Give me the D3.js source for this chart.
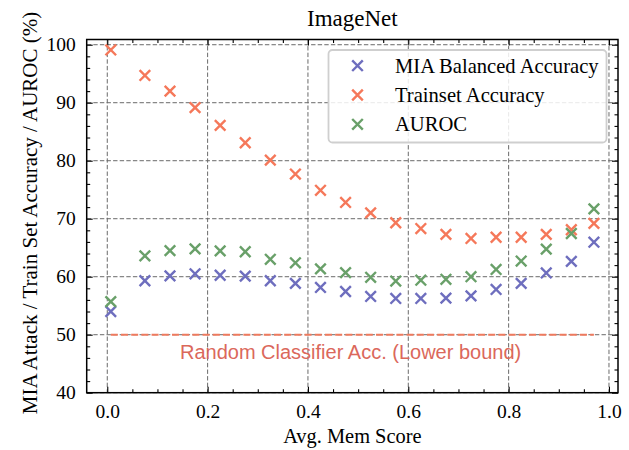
<!DOCTYPE html>
<html>
<head>
<meta charset="utf-8">
<script src="https://cdn.jsdelivr.net/npm/d3@7/dist/d3.min.js"></script>
<style>
  html, body { margin: 0; padding: 0; background: #fff; }
  svg { display: block; }
  .tick text { font-family: "Liberation Serif", "DejaVu Serif", serif; font-size: 19.5px; fill: #000; }
</style>
</head>
<body>
<div id="chart"></div>
<script>
// Average memorization score of each bin
const memScore = [0.007, 0.075, 0.125, 0.175, 0.225, 0.275, 0.325, 0.375, 0.425, 0.475,
                  0.525, 0.575, 0.625, 0.675, 0.725, 0.775, 0.825, 0.875, 0.925, 0.97];
// MIA balanced accuracy (%)
const miaBalancedAcc = [54.0, 59.3, 60.15, 60.5, 60.25, 60.1, 59.3, 58.85, 58.15, 57.45,
                        56.6, 56.25, 56.25, 56.3, 56.7, 57.8, 58.85, 60.65, 62.65, 65.95];
// Train set accuracy (%)
const trainsetAcc = [99.1, 94.7, 92.0, 89.15, 86.1, 83.1, 80.1, 77.7, 74.9, 72.8,
                     71.0, 69.3, 68.3, 67.3, 66.6, 66.8, 66.8, 67.3, 68.1, 69.2];
// Attack AUROC (%)
const auroc = [55.7, 63.6, 64.5, 64.8, 64.45, 64.3, 63.0, 62.4, 61.35, 60.7,
               59.9, 59.25, 59.4, 59.55, 60.0, 61.25, 62.7, 64.75, 67.45, 71.7];
// Random classifier baseline (%)
const randomBaseline = 50;

const xTicks = [0.0, 0.2, 0.4, 0.6, 0.8, 1.0];
const yTicks = [40, 50, 60, 70, 80, 90, 100];

const seriesNames = ["MIA Balanced Accuracy", "Trainset Accuracy", "AUROC"];
const seriesValues = [miaBalancedAcc, trainsetAcc, auroc];
const seriesColors = ["#6e6ebe", "#f5785a", "#69a069"];

const W = 629, H = 450;
const plotL = 86.7, plotR = 618, plotT = 39.5, plotB = 392.7;
const serif = '"Liberation Serif", "DejaVu Serif", serif';

const svg = d3.select("#chart").append("svg")
  .attr("width", W).attr("height", H);

const x = d3.scaleLinear().domain([-0.041, 1.018]).range([plotL, plotR]);
const y = d3.scaleLinear().domain([40, 100.9]).range([plotB, plotT]);

// grid
const grid = svg.append("g").attr("stroke", "#6a6a6a").attr("stroke-width", 1)
  .attr("stroke-dasharray", "4.4,2.2").attr("fill", "none");
grid.selectAll("line.gx").data(xTicks).join("line").attr("class", "gx")
  .attr("x1", d => x(d)).attr("x2", d => x(d)).attr("y1", plotT).attr("y2", plotB);
grid.selectAll("line.gy").data(yTicks).join("line").attr("class", "gy")
  .attr("x1", plotL).attr("x2", plotR).attr("y1", d => y(d)).attr("y2", d => y(d));

// minor tick values
const xMinor = d3.range(-0.05, 1.051, 0.05).map(v => +v.toFixed(2))
  .filter(v => v >= -0.041 && v <= 1.018 && !xTicks.some(t => Math.abs(t - v) < 1e-6));
const yMinor = d3.range(40, 101, 2).filter(v => v % 10 !== 0);

function styleAxis(g) {
  g.select(".domain").remove();
  g.selectAll(".tick line").attr("stroke", "#000").attr("stroke-width", 1.1);
}

// major axes with inward ticks
svg.append("g").attr("transform", `translate(0,${plotB})`)
  .call(d3.axisBottom(x).tickValues(xTicks).tickFormat(d3.format(".1f")).tickSize(-6).tickPadding(11))
  .call(styleAxis);
svg.append("g").attr("transform", `translate(0,${plotT})`)
  .call(d3.axisTop(x).tickValues(xTicks).tickFormat("").tickSize(-6))
  .call(styleAxis);
svg.append("g").attr("transform", `translate(${plotL},0)`)
  .call(d3.axisLeft(y).tickValues(yTicks).tickSize(-6).tickPadding(11))
  .call(styleAxis);
svg.append("g").attr("transform", `translate(${plotR},0)`)
  .call(d3.axisRight(y).tickValues(yTicks).tickFormat("").tickSize(-6))
  .call(styleAxis);

// minor ticks
svg.append("g").attr("transform", `translate(0,${plotB})`)
  .call(d3.axisBottom(x).tickValues(xMinor).tickFormat("").tickSize(-3.5)).call(styleAxis);
svg.append("g").attr("transform", `translate(0,${plotT})`)
  .call(d3.axisTop(x).tickValues(xMinor).tickFormat("").tickSize(-3.5)).call(styleAxis);
svg.append("g").attr("transform", `translate(${plotL},0)`)
  .call(d3.axisLeft(y).tickValues(yMinor).tickFormat("").tickSize(-3.5)).call(styleAxis);
svg.append("g").attr("transform", `translate(${plotR},0)`)
  .call(d3.axisRight(y).tickValues(yMinor).tickFormat("").tickSize(-3.5)).call(styleAxis);

// random classifier baseline
svg.append("line")
  .attr("x1", x(memScore[0])).attr("x2", x(memScore[memScore.length - 1]))
  .attr("y1", y(randomBaseline)).attr("y2", y(randomBaseline))
  .attr("stroke", "#ee7a5e").attr("stroke-width", 2).attr("stroke-dasharray", "7,3.2");
svg.append("text")
  .attr("x", x(0.485)).attr("y", 359)
  .attr("text-anchor", "middle")
  .attr("font-family", '"Liberation Sans", Arial, sans-serif')
  .attr("font-size", 20).attr("fill", "#db685b")
  .text("Random Classifier Acc. (Lower bound)");

// cross markers
const arm = 5.3;
function cross(sel, color) {
  sel.append("path")
    .attr("d", `M${-arm},${-arm}L${arm},${arm}M${-arm},${arm}L${arm},${-arm}`)
    .attr("stroke", color).attr("stroke-width", 2.4).attr("fill", "none");
}
seriesValues.forEach((vals, i) => {
  const g = svg.append("g");
  g.selectAll("g").data(vals).join("g")
    .attr("transform", (d, j) => `translate(${x(memScore[j])},${y(d)})`)
    .each(function () { cross(d3.select(this), seriesColors[i]); });
});

// frame
svg.append("rect").attr("x", plotL).attr("y", plotT)
  .attr("width", plotR - plotL).attr("height", plotB - plotT)
  .attr("fill", "none").attr("stroke", "#000").attr("stroke-width", 1.5);

// legend
const lg = svg.append("g");
lg.append("rect").attr("x", 328.5).attr("y", 50).attr("width", 278).attr("height", 92.5)
  .attr("rx", 4).attr("fill", "rgba(255,255,255,0.85)")
  .attr("stroke", "#cfcfcf").attr("stroke-width", 1.8);
seriesNames.forEach((name, i) => {
  const cy = 65.7 + i * 29.3;
  const m = lg.append("g").attr("transform", `translate(357.5,${cy})`);
  cross(m, seriesColors[i]);
  lg.append("text").attr("x", 395).attr("y", cy + 6.8)
    .attr("font-family", serif).attr("font-size", 20.6).attr("fill", "#000")
    .text(name);
});

// title and axis labels
svg.append("text").attr("x", (plotL + plotR) / 2).attr("y", 26)
  .attr("text-anchor", "middle").attr("font-family", serif).attr("font-size", 23)
  .text("ImageNet");
svg.append("text").attr("x", (plotL + plotR) / 2).attr("y", 443)
  .attr("text-anchor", "middle").attr("font-family", serif).attr("font-size", 20.4)
  .text("Avg. Mem Score");
svg.append("text")
  .attr("transform", `translate(37,213) rotate(-90)`)
  .attr("text-anchor", "middle").attr("font-family", serif).attr("font-size", 21)
  .text("MIA Attack / Train Set Accuracy / AUROC (%)");
</script>
</body>
</html>
